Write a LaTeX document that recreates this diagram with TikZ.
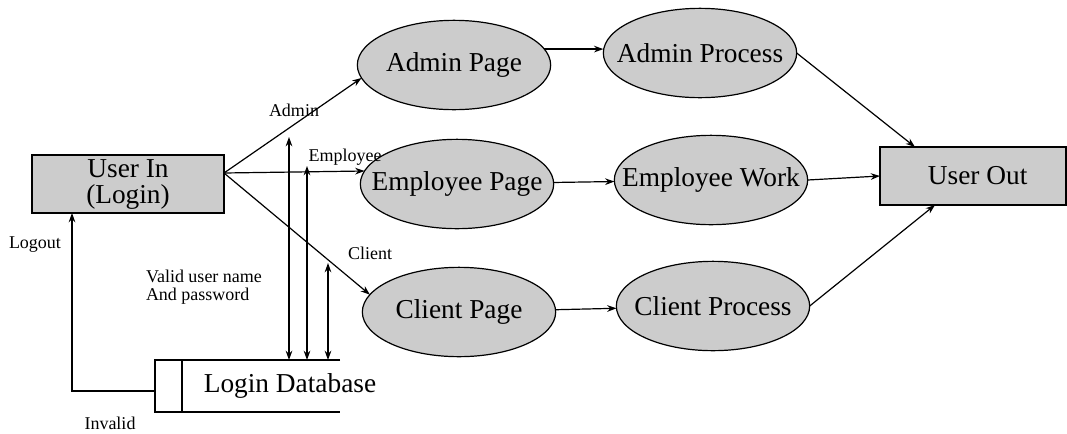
\documentclass[tikz,border=0pt]{standalone}
\usepackage{fontspec}
\setmainfont{Liberation Serif}
\usetikzlibrary{arrows.meta,shapes.geometric}
\newcommand{\zb}[1]{\makebox[0pt][c]{#1}}
\begin{document}
\begin{tikzpicture}[x=0.75pt,y=-0.75pt,
  every node/.style={inner sep=0pt,outer sep=0pt},
  big/.style={font=\fontsize{20.5}{20.5}\selectfont},
  small/.style={font=\fontsize{13.5}{14}\selectfont},
  box/.style={draw,line width=0.9pt,fill=black!20,rectangle,big},
  proc/.style={draw,line width=0.9pt,fill=black!20,ellipse,minimum width=145pt,minimum height=67pt,big},
  arr/.style={line width=0.9pt,-{Stealth[length=7pt,width=5pt]}},
  darr/.style={line width=0.9pt,{Stealth[length=7pt,width=5pt]}-{Stealth[length=7pt,width=5pt]}},
  ln/.style={line width=0.9pt}]
\useasboundingbox (0,0) rectangle (1067,433);

% nodes
\node[box,minimum width=144pt,minimum height=43.5pt,align=center] (uin) at (128,184) {User In\\[-1pt](Login)};
\node[box,minimum width=139.5pt,minimum height=43.5pt] (uout) at (973,176) {\hspace*{7pt}User Out};

\node[proc] (ap) at (454,65) {\zb{Admin Page}};
\node[proc] (ep) at (457,184) {\zb{Employee Page}};
\node[proc] (cp) at (459,312) {\zb{Client Page}};
\node[proc] (apr) at (700,53) {\zb{Admin Process}};
\node[proc] (ew) at (711,180) {\zb{Employee Work}};
\node[proc] (cpr) at (713,306) {\zb{Client Process}};

% database
\node[minimum width=138.75pt,minimum height=39pt] (db) at (247.5,386) {};
\node[big] (dbl) at (290,386) {Login Database};
\draw[ln] (db.north east) -- (db.north west) -- (db.south west) -- (db.south east);
\draw[ln] ([xshift=20.25pt]db.north west) -- ([xshift=20.25pt]db.south west);

% labels
\node[small] (ladmin) at (294,110) {Admin};
\node[small] (lemp) at (345,157) {Employee};
\node[small] (lcli) at (370,253) {Client};
\node[small,align=left,anchor=west] (lvalid) at (146,287) {Valid user name\\And password};
\node[small] (llogout) at (35,245) {Logout};
\node[small] (linv) at (110,423) {Invalid};

% connectors
\coordinate (uo) at (224,173);
\draw[arr] (uo) -- (ap.188);
\draw[arr] (uo) -- (ep.172);
\draw[arr] (uo) -- (cp.169);

\draw[arr] (ap.10) -- (ap.10 -| apr.west);
\draw[arr] (ep) -- (ew);
\draw[arr] (cp) -- (cpr);

\draw[arr] (apr.east) -- ([xshift=-43.5pt]uout.north);
\draw[arr] (ew.east) -- (uout.west);
\draw[arr] (cpr.east) -- ([xshift=-28.5pt]uout.south);

\coordinate (v1) at (289,137);
\coordinate (v2) at (307,166);
\coordinate (v3) at (328,263);
\draw[darr] (v1) -- (v1 |- db.north);
\draw[darr] (v2) -- (v2 |- db.north);
\draw[darr] (v3) -- (v3 |- db.north);

\coordinate (lo) at (155,391);
\draw[arr] (lo) -| ([xshift=-42pt]uin.south);
\end{tikzpicture}
\end{document}
